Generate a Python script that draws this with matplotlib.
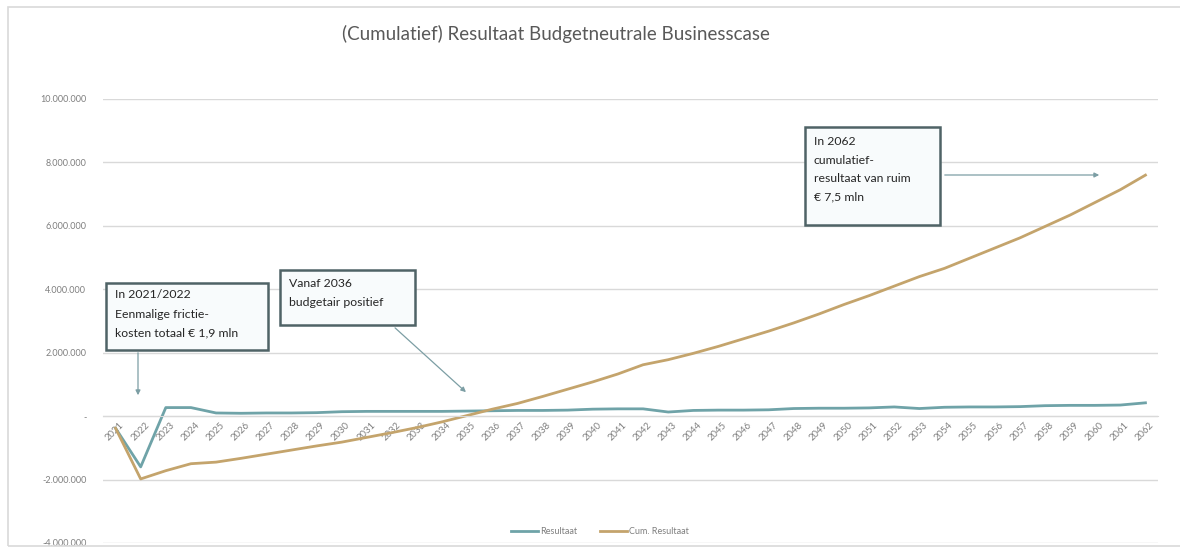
import matplotlib
matplotlib.use("Agg")
import matplotlib.pyplot as plt
import matplotlib.transforms as mtransforms
from matplotlib.patches import Rectangle
from matplotlib.ticker import FuncFormatter

plt.rcParams['font.family'] = ['Lato', 'DejaVu Sans']

years = [str(y) for y in range(2021, 2063)]
resultaat = [-0.38, -1.60, 0.27, 0.27, 0.10, 0.09, 0.10, 0.10, 0.11, 0.14,
             0.15, 0.15, 0.15, 0.15, 0.16, 0.17, 0.18, 0.18, 0.19, 0.22,
             0.23, 0.23, 0.13, 0.18, 0.19, 0.19, 0.20, 0.24, 0.25, 0.25,
             0.26, 0.29, 0.24, 0.28, 0.29, 0.29, 0.30, 0.33, 0.34, 0.34,
             0.35, 0.42]
cum_resultaat = [-0.38, -1.98, -1.72, -1.50, -1.45, -1.33, -1.20, -1.07, -0.94, -0.82,
                 -0.67, -0.52, -0.36, -0.18, 0.02, 0.22, 0.40, 0.62, 0.85, 1.08,
                 1.33, 1.62, 1.78, 1.98, 2.20, 2.44, 2.68, 2.94, 3.22, 3.52,
                 3.80, 4.10, 4.40, 4.66, 4.98, 5.30, 5.62, 5.98, 6.34, 6.74,
                 7.14, 7.60]
resultaat = [v * 1e6 for v in resultaat]
cum_resultaat = [v * 1e6 for v in cum_resultaat]
y_ticks = [-4e6, -2e6, 0, 2e6, 4e6, 6e6, 8e6, 10e6]

W, H = 1180, 547
fig = plt.figure(figsize=(W / 100, H / 100), dpi=100)
fig.patch.set_facecolor('white')


def fx(x):
    return x / W


def fy(y):
    return 1 - y / H


# outer chart border
fig.patches.append(Rectangle((fx(8), fy(546)), fx(1195) - fx(8), fy(7) - fy(546),
                             transform=fig.transFigure, fill=False,
                             edgecolor='#d9d9d9', lw=1.2))

ax = fig.add_axes([fx(103), fy(543), fx(1158) - fx(103), fy(99) - fy(543)])
ax.set_facecolor('none')
x = list(range(len(years)))

ax.set_ylim(-4e6, 10e6)
ax.set_xlim(-0.5, len(years) - 0.5)
ax.set_yticks(y_ticks)
ax.yaxis.grid(True, color='#d9d9d9', lw=1)
ax.set_axisbelow(True)


def fmt(v, pos):
    if v == 0:
        return '-'
    s = f"{abs(int(v)):,}".replace(',', '.')
    return ('-' if v < 0 else '') + s


ax.yaxis.set_major_formatter(FuncFormatter(fmt))
ax.tick_params(axis='y', length=0, labelsize=6.5, labelcolor='#7f7f7f', pad=12)

for s in ['left', 'right', 'top']:
    ax.spines[s].set_visible(False)
ax.spines['bottom'].set_position(('data', 0))
ax.spines['bottom'].set_color('#d9d9d9')
ax.set_xticks(x)
ax.set_xticklabels(years, rotation=45, ha='right', va='top', rotation_mode='anchor')
ax.tick_params(axis='x', length=0, labelsize=6.8, labelcolor='#7f7f7f', pad=3)
offset = mtransforms.ScaledTranslation(4 / 100, 0, fig.dpi_scale_trans)
for lab in ax.get_xticklabels():
    lab.set_transform(lab.get_transform() + offset)

c_res = '#6fa3a8'
c_cum = '#c4a46c'
l1, = ax.plot(x, resultaat, color=c_res, lw=2.0, label='Resultaat', solid_joinstyle='round')
l2, = ax.plot(x, cum_resultaat, color=c_cum, lw=2.0, label='Cum. Resultaat', solid_joinstyle='round')

fig.legend(handles=[l1, l2], loc='center', bbox_to_anchor=(fx(600), fy(532)),
           ncol=2, frameon=False, fontsize=6.5, labelcolor='#7f7f7f',
           handlelength=3, handletextpad=0.2, columnspacing=2.5)

fig.text(fx(556), fy(34), '(Cumulatief) Resultaat Budgetneutrale Businesscase',
         ha='center', va='center', fontsize=13.5, color='#595959')

box_edge = '#4f6366'
box_face = '#f8fbfc'
arrow_col = '#7c9ea4'


def box(x0, y0, x1, y1, lines, ys):
    fig.patches.append(Rectangle((fx(x0), fy(y1)), fx(x1) - fx(x0), fy(y0) - fy(y1),
                                 transform=fig.transFigure, facecolor=box_face,
                                 edgecolor=box_edge, lw=1.8, zorder=5))
    for t, yy in zip(lines, ys):
        fig.text(fx(x0 + 9), fy(yy), t, ha='left', va='center', fontsize=8.8,
                 color='#262626', zorder=6)


def arrow(xa, ya, xb, yb):
    fig.add_artist(matplotlib.patches.FancyArrowPatch(
        (fx(xa), fy(ya)), (fx(xb), fy(yb)), transform=fig.transFigure,
        arrowstyle='-|>', mutation_scale=7, color=arrow_col, lw=0.9, zorder=4))


box(106, 283, 268, 350, ['In 2021/2022', 'Eenmalige frictie-', 'kosten totaal € 1,9 mln'],
    [295, 314, 333])
arrow(138, 350, 138, 398)

box(280, 270, 415, 325, ['Vanaf 2036', 'budgetair positief'], [284, 303])
arrow(393, 326, 468, 394)

box(805, 127, 940, 225, ['In 2062', 'cumulatief-', 'resultaat van ruim', '€ 7,5 mln'],
    [142, 160, 178, 197])
arrow(942, 175, 1102, 175)

fig.savefig('out.png', dpi=100)
